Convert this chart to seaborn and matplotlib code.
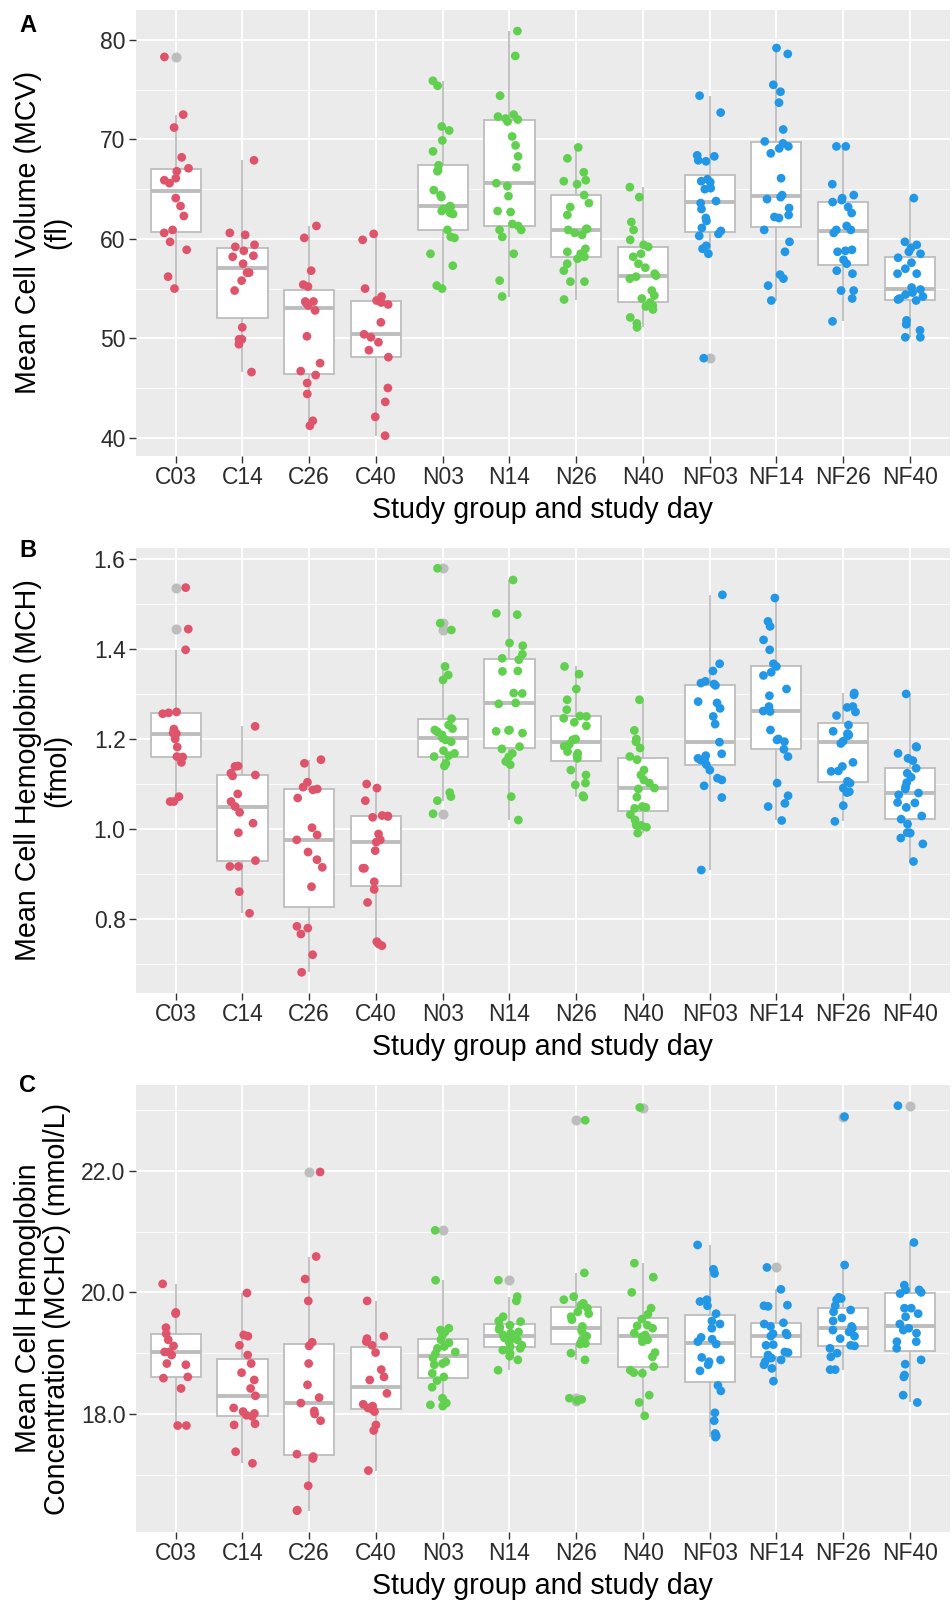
import numpy as np
import pandas as pd
import matplotlib
matplotlib.use("Agg")
import matplotlib.pyplot as plt
import seaborn as sns

plt.rcParams['font.family'] = ['Liberation Sans', 'DejaVu Sans']

groups = ["C03", "C14", "C26", "C40", "N03", "N14", "N26", "N40", "NF03", "NF14", "NF26", "NF40"]
series_colors = {"C": "#DF536B", "N": "#61D04F", "NF": "#2297E6"}

# Panel A: Mean Cell Volume (fl)
mcv = {
    "C03": [78.3, 72.5, 71.2, 68.2, 67.1, 66.8, 66.1, 65.9, 65.6, 64.1, 63.3, 62.3, 60.9, 60.6, 59.7, 58.9, 56.2, 55.0],
    "C14": [67.9, 60.6, 60.4, 59.4, 59.2, 58.8, 58.3, 58.2, 57.5, 56.6, 56.6, 55.8, 54.8, 51.1, 49.9, 49.9, 49.4, 46.6],
    "C26": [61.3, 60.1, 56.8, 55.4, 55.2, 53.7, 53.7, 53.6, 53.3, 52.8, 50.2, 47.5, 46.7, 46.3, 45.5, 44.4, 41.7, 41.2],
    "C40": [60.5, 59.9, 55.0, 54.2, 53.8, 53.6, 53.4, 51.6, 50.4, 50.1, 49.6, 48.8, 48.1, 45.0, 43.6, 42.1, 40.2],
    "N03": [75.9, 75.4, 71.3, 70.9, 69.9, 68.8, 67.4, 66.9, 66.8, 64.9, 64.4, 64.2, 63.3, 63.2, 63.0, 62.8, 62.6, 62.5, 60.9, 60.2, 60.1, 58.5, 57.3, 55.3, 55.0],
    "N14": [80.9, 78.4, 74.4, 72.5, 72.3, 72.1, 72.0, 71.8, 70.3, 69.4, 68.3, 67.2, 65.6, 65.3, 64.3, 62.8, 62.7, 61.5, 61.3, 60.9, 60.9, 60.2, 58.5, 55.8, 54.2],
    "N26": [69.2, 68.1, 66.7, 65.9, 65.8, 65.5, 64.4, 63.6, 63.2, 62.4, 61.0, 61.0, 60.9, 60.6, 60.4, 59.0, 58.7, 58.5, 58.2, 58.0, 57.5, 56.8, 55.7, 55.7, 53.9],
    "N40": [65.2, 64.2, 61.7, 60.9, 59.9, 59.4, 59.2, 58.5, 58.2, 57.5, 57.1, 56.5, 56.3, 56.2, 56.0, 54.8, 54.3, 54.0, 53.6, 53.3, 53.2, 52.9, 52.1, 51.5, 51.1],
    "NF03": [74.4, 72.7, 68.4, 68.3, 67.9, 67.8, 66.0, 65.8, 65.7, 65.1, 65.0, 63.8, 63.6, 63.0, 62.1, 61.8, 61.1, 60.8, 60.5, 60.3, 59.3, 59.0, 58.5, 48.0],
    "NF14": [79.2, 78.6, 75.5, 74.8, 73.7, 71.0, 69.8, 69.6, 69.3, 69.1, 68.6, 66.1, 64.4, 64.2, 64.0, 63.1, 62.4, 62.2, 62.1, 60.9, 59.7, 58.7, 56.4, 56.0, 55.3, 53.8],
    "NF26": [69.3, 69.3, 65.5, 64.4, 64.1, 63.9, 63.7, 63.2, 62.6, 61.3, 60.9, 60.9, 60.6, 58.9, 58.8, 58.7, 57.9, 57.5, 56.8, 56.5, 54.8, 54.8, 54.0, 51.7],
    "NF40": [64.1, 59.7, 59.4, 59.1, 58.7, 58.5, 58.1, 57.6, 57.0, 56.5, 56.5, 55.1, 54.9, 54.6, 54.4, 54.2, 54.0, 53.9, 53.8, 51.8, 51.4, 50.8, 50.1, 50.1],
}

# Panel B: Mean Cell Hemoglobin (fmol)
mch = {
    "C03": [1.536, 1.444, 1.398, 1.260, 1.258, 1.256, 1.222, 1.213, 1.212, 1.200, 1.182, 1.161, 1.160, 1.148, 1.072, 1.061, 1.061],
    "C14": [1.228, 1.140, 1.139, 1.124, 1.120, 1.118, 1.078, 1.061, 1.050, 1.037, 1.013, 0.992, 0.930, 0.917, 0.917, 0.861, 0.813],
    "C26": [1.154, 1.146, 1.104, 1.093, 1.089, 1.087, 1.069, 1.003, 0.987, 0.976, 0.949, 0.932, 0.915, 0.872, 0.784, 0.780, 0.767, 0.721, 0.682],
    "C40": [1.100, 1.091, 1.063, 1.030, 1.029, 1.028, 1.026, 0.989, 0.976, 0.971, 0.952, 0.913, 0.913, 0.883, 0.866, 0.837, 0.750, 0.745, 0.741],
    "N03": [1.579, 1.457, 1.442, 1.361, 1.342, 1.331, 1.245, 1.231, 1.223, 1.220, 1.216, 1.209, 1.202, 1.198, 1.194, 1.174, 1.168, 1.163, 1.161, 1.146, 1.140, 1.081, 1.072, 1.063, 1.034],
    "N14": [1.553, 1.479, 1.476, 1.413, 1.407, 1.388, 1.379, 1.376, 1.351, 1.350, 1.302, 1.301, 1.280, 1.278, 1.220, 1.219, 1.217, 1.213, 1.183, 1.178, 1.168, 1.160, 1.150, 1.143, 1.072, 1.020],
    "N26": [1.361, 1.344, 1.311, 1.287, 1.265, 1.251, 1.250, 1.246, 1.237, 1.229, 1.200, 1.198, 1.188, 1.184, 1.172, 1.168, 1.163, 1.157, 1.131, 1.120, 1.102, 1.098, 1.074, 1.071],
    "N40": [1.287, 1.219, 1.200, 1.194, 1.180, 1.161, 1.154, 1.131, 1.120, 1.109, 1.102, 1.091, 1.089, 1.071, 1.050, 1.048, 1.046, 1.032, 1.020, 1.009, 1.008, 1.004, 0.991],
    "NF03": [1.520, 1.367, 1.351, 1.328, 1.324, 1.322, 1.319, 1.283, 1.280, 1.268, 1.250, 1.233, 1.193, 1.167, 1.163, 1.157, 1.155, 1.153, 1.143, 1.131, 1.113, 1.109, 1.096, 1.070, 0.909],
    "NF14": [1.513, 1.461, 1.450, 1.420, 1.398, 1.367, 1.361, 1.348, 1.341, 1.311, 1.296, 1.272, 1.262, 1.261, 1.220, 1.200, 1.198, 1.194, 1.177, 1.161, 1.102, 1.074, 1.057, 1.050, 1.019],
    "NF26": [1.302, 1.298, 1.272, 1.270, 1.260, 1.252, 1.231, 1.217, 1.212, 1.209, 1.207, 1.195, 1.190, 1.148, 1.139, 1.129, 1.128, 1.106, 1.102, 1.091, 1.083, 1.081, 1.052, 1.017],
    "NF40": [1.300, 1.183, 1.182, 1.168, 1.157, 1.152, 1.135, 1.124, 1.115, 1.103, 1.094, 1.089, 1.080, 1.076, 1.059, 1.058, 1.048, 1.029, 1.022, 1.011, 0.992, 0.991, 0.980, 0.967, 0.928],
}

# Panel C: Mean Cell Hemoglobin Concentration (mmol/L)
mchc = {
    "C03": [20.14, 19.67, 19.65, 19.42, 19.32, 19.22, 19.12, 19.02, 19.02, 18.97, 18.83, 18.81, 18.61, 18.59, 18.42, 17.81, 17.81],
    "C14": [19.99, 19.30, 19.28, 19.13, 18.97, 18.83, 18.68, 18.56, 18.42, 18.30, 18.10, 18.04, 18.01, 17.98, 17.96, 17.84, 17.82, 17.38, 17.19],
    "C26": [21.98, 20.59, 20.22, 19.86, 19.18, 19.12, 18.83, 18.48, 18.27, 18.18, 18.05, 18.00, 17.89, 17.34, 17.30, 17.27, 16.82, 16.42, 16.41],
    "C40": [19.86, 19.28, 19.24, 19.19, 19.13, 19.01, 18.73, 18.61, 18.56, 18.34, 18.16, 18.13, 18.10, 18.08, 18.04, 17.82, 17.73, 17.07],
    "N03": [21.02, 20.20, 19.41, 19.38, 19.35, 19.30, 19.22, 19.17, 19.11, 19.08, 19.02, 18.99, 18.92, 18.86, 18.83, 18.81, 18.67, 18.61, 18.55, 18.44, 18.26, 18.18, 18.15, 18.13],
    "N14": [20.20, 19.93, 19.86, 19.60, 19.53, 19.52, 19.46, 19.43, 19.39, 19.35, 19.33, 19.30, 19.27, 19.25, 19.22, 19.18, 19.13, 19.11, 19.08, 19.05, 19.00, 18.95, 18.89, 18.72],
    "N26": [22.83, 20.32, 19.93, 19.88, 19.82, 19.79, 19.74, 19.68, 19.65, 19.60, 19.55, 19.44, 19.38, 19.35, 19.28, 19.22, 19.17, 19.16, 19.15, 19.00, 18.89, 18.26, 18.24, 18.22],
    "N40": [23.04, 20.48, 20.25, 20.00, 19.74, 19.64, 19.56, 19.46, 19.45, 19.41, 19.33, 19.30, 19.27, 19.22, 19.19, 19.01, 18.94, 18.78, 18.72, 18.68, 18.67, 18.31, 18.19, 17.97],
    "NF03": [20.78, 20.38, 20.31, 19.88, 19.85, 19.78, 19.65, 19.53, 19.48, 19.41, 19.26, 19.23, 19.19, 19.15, 18.93, 18.89, 18.86, 18.81, 18.71, 18.47, 18.38, 18.02, 17.89, 17.68, 17.64, 17.62],
    "NF14": [20.41, 20.05, 19.79, 19.78, 19.77, 19.50, 19.48, 19.44, 19.33, 19.32, 19.30, 19.28, 19.14, 19.13, 19.02, 19.01, 18.97, 18.92, 18.89, 18.86, 18.81, 18.75, 18.54],
    "NF26": [22.89, 20.45, 19.92, 19.90, 19.88, 19.78, 19.71, 19.68, 19.58, 19.53, 19.44, 19.41, 19.38, 19.35, 19.28, 19.24, 19.13, 19.12, 19.08, 19.00, 18.94, 18.73, 18.73],
    "NF40": [23.07, 20.82, 20.12, 20.04, 20.04, 20.00, 19.98, 19.74, 19.74, 19.65, 19.60, 19.48, 19.41, 19.38, 19.33, 19.19, 19.19, 19.08, 18.89, 18.82, 18.64, 18.61, 18.31, 18.19],
}

ylabels = ["Mean Cell Volume (MCV)\n(fl)",
           "Mean Cell Hemoglobin (MCH)\n(fmol)",
           "Mean Cell Hemoglobin\nConcentration (MCHC) (mmol/L)"]
xlabel = "Study group and study day"
panel_letters = ["A", "B", "C"]
major_ticks = [[40, 50, 60, 70, 80], [0.8, 1.0, 1.2, 1.4, 1.6], [18.0, 20.0, 22.0]]
minor_ticks = [[45, 55, 65, 75], [0.7, 0.9, 1.1, 1.3, 1.5], [17.0, 19.0, 21.0, 23.0]]
tick_fmt = ["{:.0f}", "{:.1f}", "{:.1f}"]
ylims = [(38.19, 83.02), (0.636, 1.624), (16.06, 23.41)]

BOX_GREY = "#BDBDBD"

W, H = 953, 1600
fig = plt.figure(figsize=(W / 100, H / 100), dpi=100)
rects = [(10, 455.7), (548, 993), (1085, 1532)]
left_px, right_px = 135.7, 950
letter_base = [32, 557, 1092]


def prefix(g):
    return g.rstrip("0123456789")


for i, data in enumerate([mcv, mch, mchc]):
    top, bot = rects[i]
    ax = fig.add_axes([left_px / W, 1 - bot / H, (right_px - left_px) / W, (bot - top) / H])
    rows = [(g, v) for g in groups for v in data[g]]
    df = pd.DataFrame(rows, columns=["group", "value"])
    df["series"] = df["group"].map(prefix)

    ax.set_facecolor("#EBEBEB")
    sns.boxplot(data=df, x="group", y="value", order=groups, color="white",
                linecolor=BOX_GREY, linewidth=1.3, width=0.75, showcaps=False, whis=1.5,
                flierprops=dict(marker="o", markerfacecolor=BOX_GREY, markeredgecolor=BOX_GREY,
                                markersize=6.2),
                medianprops=dict(linewidth=2.8, color=BOX_GREY), ax=ax)
    np.random.seed(7 + i)
    sns.stripplot(data=df, x="group", y="value", order=groups, hue="series",
                  palette=series_colors, jitter=0.2, size=6.3, linewidth=0,
                  ax=ax, legend=False, zorder=3)

    ax.set_xlim(-0.6, len(groups) - 0.4)
    ax.set_ylim(*ylims[i])
    ax.set_yticks(major_ticks[i])
    ax.set_yticklabels([tick_fmt[i].format(t) for t in major_ticks[i]])
    ax.set_yticks(minor_ticks[i], minor=True)
    ax.set_axisbelow(True)
    ax.grid(True, which="major", color="white", linewidth=1.3)
    ax.grid(True, which="minor", axis="y", color="white", linewidth=0.6)
    for s in ax.spines.values():
        s.set_visible(False)
    ax.tick_params(axis="both", which="major", length=4.8, width=1.0, color="#333333",
                   labelsize=16.5, labelcolor="#2b2b2b", pad=2.5)
    ax.tick_params(axis="y", which="minor", length=0)

    ax.set_xlabel(xlabel, fontsize=20.6, color="black")
    ax.xaxis.set_label_coords(0.5, -0.090)
    ax.set_ylabel(ylabels[i], fontsize=20.6, color="black", linespacing=1.05)
    ax.yaxis.set_label_coords(-0.079, 0.5)

    fig.text(19 / W, 1 - letter_base[i] / H, panel_letters[i], fontsize=17,
             fontweight="bold", va="baseline", ha="left")

fig.savefig("out.png", dpi=100)
